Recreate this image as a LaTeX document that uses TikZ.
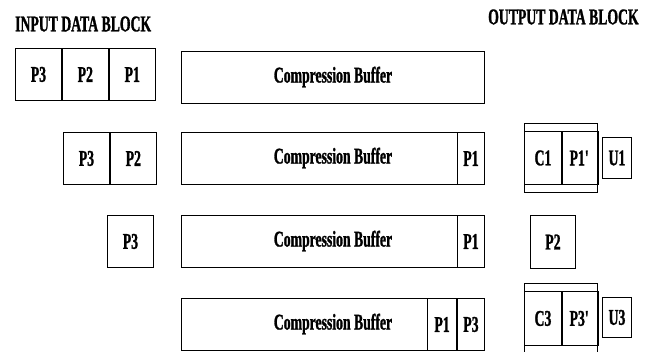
\documentclass[tikz,border=0pt]{standalone}
\usepackage{fontspec}
\setmainfont{Liberation Serif}[FakeStretch=0.61, BoldFeatures={FakeBold=1.2}]
\usetikzlibrary{positioning}

\tikzset{
  lbl/.style={font=\fontsize{22.5}{24}\selectfont\bfseries, inner sep=0pt},
  box/.style 2 args={draw, line width=0.9pt, inner sep=0pt, anchor=north west,
    minimum width=#1, minimum height=#2, lbl}
}

\begin{document}
\begin{tikzpicture}[x=1pt,y=-1pt]
\useasboundingbox (0,0) rectangle (655,351);
\clip (0,0) rectangle (655,351);

% titles
\node[lbl, anchor=west] (intitle) at (15,24) {INPUT DATA BLOCK};
\node[lbl, anchor=west] (outtitle) at (488,17) {OUTPUT DATA BLOCK};

% row 1
\node[box={46pt}{52pt}] (r1p3) at (15,48) {P3};
\node[box={46pt}{52pt}] (r1p2) at (r1p3.north east) {P2};
\node[box={46pt}{52pt}] (r1p1) at (r1p2.north east) {P1};
\node[box={303pt}{52pt}] (r1buf) at (181,51) {};
\node[lbl] (r1txt) at (333,77) {Compression Buffer};

% row 2
\node[box={46pt}{52pt}] (r2p3) at (63,132) {P3};
\node[box={46pt}{52pt}] (r2p2) at (r2p3.north east) {P2};
\node[box={303pt}{52pt}] (r2buf) at (181,132) {};
\node[box={27pt}{52pt}, anchor=north east] (r2p1) at (r2buf.north east) {P1};
\node[lbl] (r2txt) at (333,158) {Compression Buffer};
\node[box={73pt}{69pt}] (r2out) at (524,123) {};
\node[box={37pt}{53pt}] (r2c1) at (524,131) {C1};
\node[box={36pt}{53pt}] (r2q1) at (r2c1.north east) {P1\textquotesingle};
\node[box={29pt}{41pt}] (r2u1) at (602,137) {U1};

% row 3
\node[box={46pt}{52pt}] (r3p3) at (107,215) {P3};
\node[box={303pt}{52pt}] (r3buf) at (181,215) {};
\node[box={27pt}{52pt}, anchor=north east] (r3p1) at (r3buf.north east) {P1};
\node[lbl] (r3txt) at (333,241) {Compression Buffer};
\node[box={45pt}{53pt}] (r3p2) at (530,215) {P2};

% row 4
\node[box={303pt}{52pt}] (r4buf) at (181,298) {};
\node[box={27pt}{52pt}, anchor=north east] (r4p3) at (r4buf.north east) {P3};
\node[box={29pt}{52pt}, anchor=north east] (r4p1) at (r4p3.north west) {P1};
\node[lbl] (r4txt) at (333,324) {Compression Buffer};
\node[box={73pt}{80pt}] (r4out) at (524,283) {};
\node[box={37pt}{54pt}] (r4c3) at (524,291) {C3};
\node[box={36pt}{54pt}] (r4q3) at (r4c3.north east) {P3\textquotesingle};
\node[box={29pt}{40pt}] (r4u3) at (602,297) {U3};

\end{tikzpicture}
\end{document}
